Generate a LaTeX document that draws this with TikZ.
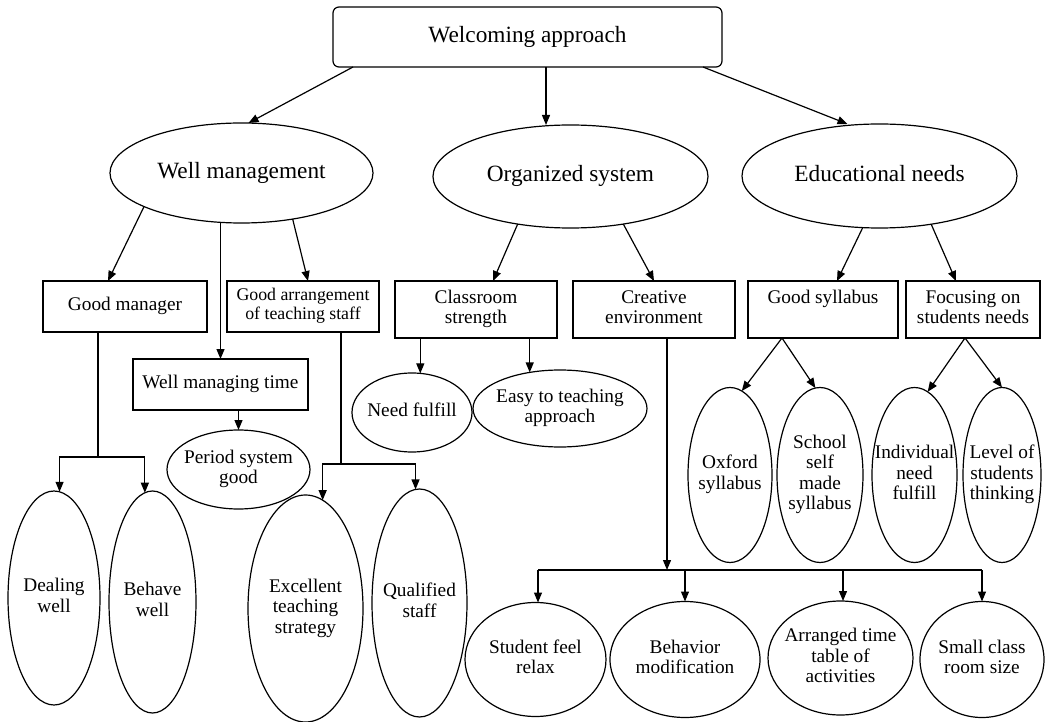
\documentclass[tikz,border=0pt]{standalone}
\usepackage{fontspec}
\setmainfont{Liberation Serif}
\usetikzlibrary{arrows.meta,shapes.geometric,calc}
\newcommand{\tx}[1]{\makebox[0pt]{\begin{tabular}{@{}c@{}}#1\end{tabular}}}
\begin{document}
\begin{tikzpicture}[x=1pt,y=-1pt,
  line width=1.2pt,
  every node/.style={inner sep=0pt, outer sep=0pt, font=\fontsize{19.3}{20.5}\selectfont},
  box/.style={draw, rectangle},
  oval/.style={draw, ellipse},
  big/.style={font=\fontsize{23.3}{26}\selectfont},
  small/.style={font=\fontsize{17.8}{18.5}\selectfont},
  wh/.style 2 args={minimum width=#1pt, minimum height=#2pt},
  arr/.style={-{Triangle[length=10pt,width=8pt]}},
]
\useasboundingbox (0,0) rectangle (1045,722);

% level 0
\node[box, rounded corners=6pt, big, wh={389}{60}] (top) at (527.5,37) {\tx{Welcoming approach}};

% level 1
\node[oval, big, wh={263}{100}] (wm) at (241.5,173) {\tx{Well management}};
\node[oval, big, wh={275}{103}] (os) at (570.5,176.5) {\tx{Organized system}};
\node[oval, big, wh={275}{104}] (en) at (879.5,176) {\tx{Educational needs}};

% level 2
\node[box, wh={164}{51}] (gm) at (125,306.5) {\tx{Good manager}};
\node[box, small, wh={152}{51}] (ga) at (303,306.5) {\tx{Good arrangement\\of teaching staff}};
\node[box, wh={175}{51}] (wt) at (220.5,384.5) {\tx{Well managing time}};
\node[box, wh={162}{57}] (cs) at (476,309.5) {\tx{Classroom\\strength}};
\node[box, wh={162}{57}] (ce) at (654,309.5) {\tx{Creative\\environment}};
\node[box, wh={150}{57}] (gs) at (823,309.5) {\tx{Good syllabus\\\mbox{}}};
\node[box, wh={134}{57}] (fo) at (973,309.5) {\tx{Focusing on\\students needs}};

% level 3
\node[oval, wh={143}{79}] (ps) at (238.5,469.5) {\tx{Period system\\good}};
\node[oval, wh={92}{214}] (dw) at (54,598) {\tx{Dealing\\well}};
\node[oval, wh={87}{222}] (bw) at (152.5,602) {\tx{Behave\\well}};
\node[oval, wh={115}{227}] (ex) at (305.5,608.5) {\tx{Excellent\\teaching\\strategy}};
\node[oval, wh={95}{228}] (qs) at (419.5,603) {\tx{Qualified\\staff}};
\node[oval, wh={120}{79}] (nf) at (412,412.5) {\tx{Need fulfill}};
\node[oval, wh={174}{77}] (et) at (560,408.5) {\tx{Easy to teaching\\approach}};
\node[oval, wh={84}{175}] (ox) at (730,475) {\tx{Oxford\\syllabus}};
\node[oval, wh={86}{175}] (ss) at (820,475) {\tx{School\\self\\made\\syllabus}};
\node[oval, wh={85}{175}] (ind) at (914.5,475) {\tx{Individual\\need\\fulfill}};
\node[oval, wh={78}{175}] (lv) at (1002,475) {\tx{Level of\\students\\thinking}};
\node[oval, wh={141}{114}] (sf) at (535.5,659.5) {\tx{Student feel\\relax}};
\node[oval, wh={150}{116}] (bm) at (685,659.5) {\tx{Behavior\\modification}};
\node[oval, wh={145}{114}] (atb) at (840.5,658) {\tx{Arranged time\\table of\\activities}};
\node[oval, wh={124}{116}] (sc) at (982,659.5) {\tx{Small class\\room size}};

% junction coordinates
\coordinate (gmj) at (98,457);
\coordinate (gaj) at (341,464);
\coordinate (bar) at (667,570);

% connectors from top
\draw[arr] ([xshift=20pt]top.south west) -- ([xshift=7pt]wm.north);
\draw[arr] ([xshift=18.5pt]top.south) -- ([xshift=-24.5pt]os.north);
\draw[arr] ([xshift=-19pt]top.south east) -- ([xshift=-32pt]en.north);

% well management
\draw[arr] (wm.199) -- ([xshift=-17pt]gm.north);
\draw[arr] (wm.south -| wt.north) -- (wt.north);
\draw[arr] (wm.318) -- ([xshift=5pt]ga.north);
\draw[arr] (wt.south -| ps.north) -- (ps.north);
\draw (gm.south -| gmj) -- (gmj);
\draw[arr] (gmj) -| (dw.87);
\draw[arr] (gmj) -| (bw.94);
\draw (ga.south -| gaj) -- (gaj);
\draw[arr] (gaj) -| (ex.81);
\draw[arr] (gaj) -| (qs.92);

% organized system
\draw[arr] (os.222) -- ([xshift=17pt]cs.north);
\draw[arr] (os.318) -- (ce.north);
\draw[arr] (nf.78 |- cs.south) -- (nf.78);
\draw[arr] (et.130 |- cs.south) -- (et.130);
\draw[arr] (ce.south -| bar) -- (bar);
\draw ([xshift=2.5pt]sf.north |- bar) -- (sc.north |- bar);
\draw[arr] ([xshift=2.5pt]sf.north |- bar) -- ([xshift=2.5pt]sf.north);
\draw[arr] (bm.north |- bar) -- (bm.north);
\draw[arr] ([xshift=2.5pt]atb.north |- bar) -- ([xshift=2.5pt]atb.north);
\draw[arr] (sc.north |- bar) -- (sc.north);

% educational needs
\draw[arr] (en.252) -- ([xshift=14pt]gs.north);
\draw[arr] (en.317) -- ([xshift=-17pt]fo.north);
\draw[arr] ([xshift=-41pt]gs.south) -- (ox.82);
\draw[arr] ([xshift=-41pt]gs.south) -- (ss.93);
\draw[arr] ([xshift=-8pt]fo.south) -- (ind.81);
\draw[arr] ([xshift=-8pt]fo.south) -- (lv.north);
\end{tikzpicture}
\end{document}
